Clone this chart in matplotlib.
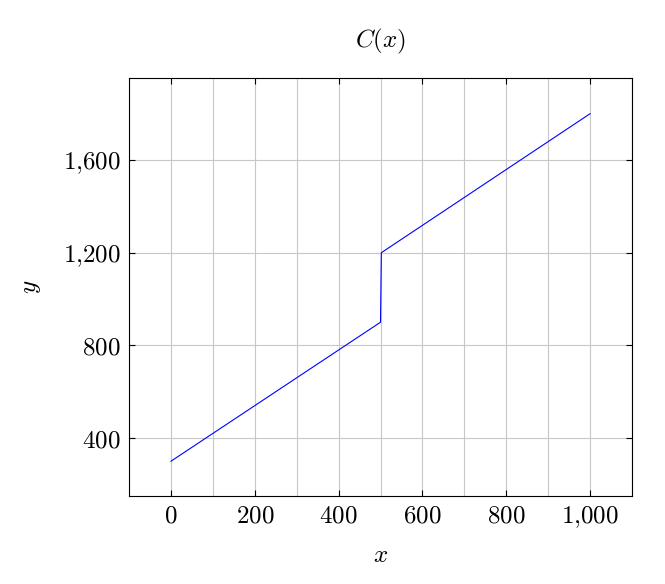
import matplotlib
matplotlib.use("Agg")
import matplotlib.pyplot as plt
from matplotlib.ticker import FuncFormatter

plt.rcParams['mathtext.fontset'] = 'cm'
plt.rcParams['font.family'] = 'serif'
plt.rcParams['font.serif'] = ['DejaVu Serif']

xs = [0, 500, 502, 1000]
ys = [300, 900, 1200, 1800]
xticks = [0, 200, 400, 600, 800, 1000]
yticks = [400, 800, 1200, 1600]

fig = plt.figure(figsize=(6.65, 5.84), dpi=100)
ax = fig.add_axes([129/665, 1-496/584, (632-129)/665, (496-78)/584])
ax.plot(xs, ys, color='blue', lw=0.8)
ax.set_xlim(-100, 1100)
ax.set_ylim(150, 1954)
ax.set_xticks(xticks)
ax.set_yticks(yticks)
ax.set_xticks(range(-100, 1101, 100), minor=True)
ax.grid(True, which='both', axis='x', color='#c8c8c8', lw=0.8)
ax.grid(True, which='major', axis='y', color='#c8c8c8', lw=0.8)
fmt = FuncFormatter(lambda v, p: '$' + f'{int(v):,}'.replace(',', '{,}') + '$')
ax.xaxis.set_major_formatter(fmt)
ax.yaxis.set_major_formatter(fmt)
ax.tick_params(direction='in', top=True, right=True, labelsize=18, length=4, pad=6)
ax.tick_params(which='minor', length=0)
ax.set_xlabel('$x$', fontsize=18, labelpad=10)
ax.set_ylabel('$y$', fontsize=18, labelpad=14)
ax.set_title('$C(x)$', fontsize=18, pad=22)
for s in ax.spines.values():
    s.set_linewidth(0.8)
fig.savefig('out.png', dpi=100)
